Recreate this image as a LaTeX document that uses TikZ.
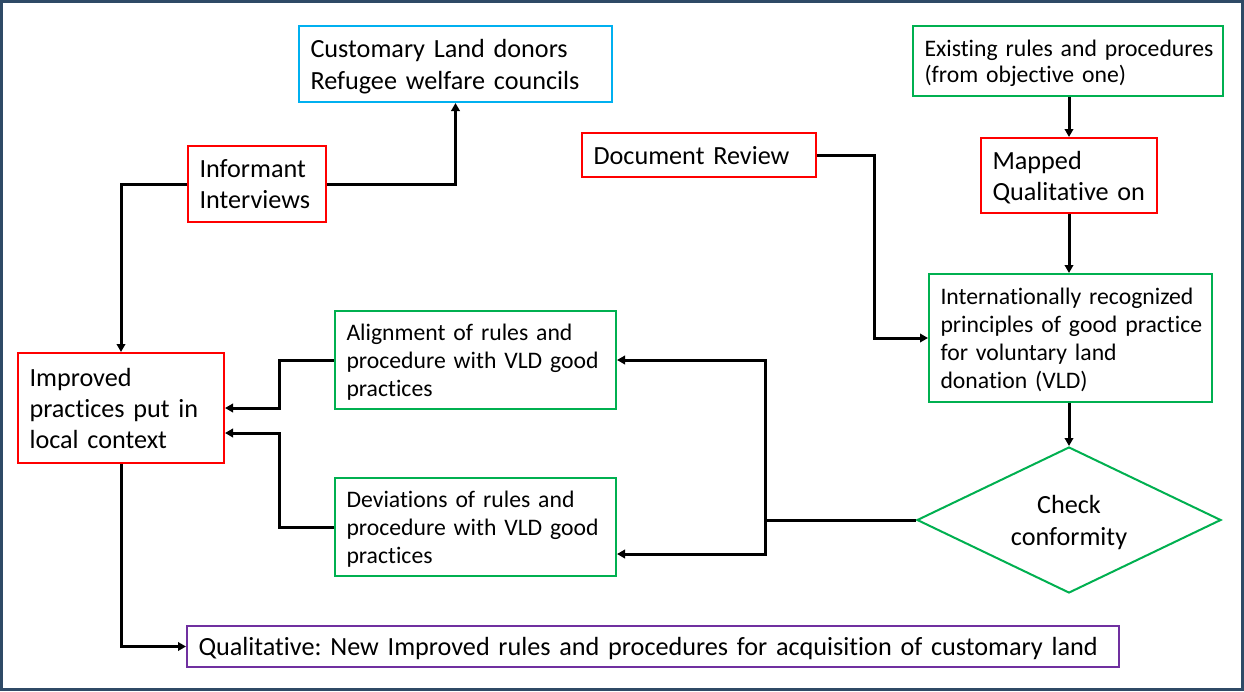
\documentclass[tikz,border=0pt]{standalone}
\usepackage{fontspec}
\setmainfont{Carlito}[Ligatures=NoCommon]
\usetikzlibrary{arrows.meta,shapes.geometric}
\definecolor{frame}{HTML}{2F4A66}
\definecolor{cred}{HTML}{FF0000}
\definecolor{cgreen}{HTML}{00B050}
\definecolor{cblue}{HTML}{00B0F0}
\definecolor{cpurple}{HTML}{7030A0}
% left-aligned lines that never wrap, set slightly low in their box
\newcommand{\leftstack}[1]{\raisebox{-3pt}[\height][\depth]{\begin{tabular}{@{}l@{}}#1\end{tabular}}}
\newcommand{\midstack}[1]{\raisebox{-3pt}[\height][\depth]{\begin{tabular}{@{}c@{}}#1\end{tabular}}}
\tikzset{
  box/.style={draw, line width=2pt, inner xsep=11.5pt, inner ysep=0pt,
    align=left, anchor=north west, fill=white,
    execute at begin node=\frenchspacing},
  bigtext/.style={font=\fontsize{26.2}{31}\selectfont},
  smalltext/.style={font=\fontsize{23.7}{28}\selectfont},
  redbox/.style={box, bigtext, draw=cred},
  bluebox/.style={box, bigtext, draw=cblue},
  greenbox/.style={box, smalltext, draw=cgreen},
  purplebox/.style={box, bigtext, draw=cpurple},
  link/.style={line width=3pt, -{Triangle[length=8pt,width=8.5pt]}},
  plainlink/.style={line width=3pt}
}
\begin{document}
\begin{tikzpicture}[x=1pt,y=-1pt]
  % page and outer frame
  \useasboundingbox (0,0) rectangle (1244,691);
  \fill[white] (0,0) rectangle (1244,691);
  \draw[frame, line width=3pt] (1.5,1.5) rectangle (1242.5,689.5);

  % boxes
  \node[bluebox, font=\fontsize{26.2}{32}\selectfont, text width=290pt, minimum height=76pt] (cust) at (298,25)
    {\leftstack{Customary Land donors\\Refugee welfare councils}};
  \node[redbox, text width=115pt, minimum height=76pt] (inf) at (187,145)
    {\leftstack{Informant\\Interviews}};
  \node[redbox, text width=211pt, minimum height=44pt] (doc) at (581,132)
    {\leftstack{Document Review}};
  \node[greenbox, font=\fontsize{23.7}{26}\selectfont, text width=287pt, minimum height=70pt] (ex) at (912,25)
    {\leftstack{Existing rules and procedures\\(from objective one)}};
  \node[redbox, text width=153pt, minimum height=75pt] (map) at (980,137)
    {\leftstack{Mapped\\Qualitative on}};
  \node[greenbox, text width=260pt, minimum height=128pt] (intl) at (928,273)
    {\leftstack{Internationally recognized\\principles of good practice\\for voluntary land\\donation (VLD)}};
  \node[greenbox, text width=258pt, minimum height=98pt] (aln) at (334,310)
    {\leftstack{Alignment of rules and\\procedure with VLD good\\practices}};
  \node[greenbox, text width=258pt, minimum height=98pt] (dev) at (334,477)
    {\leftstack{Deviations of rules and\\procedure with VLD good\\practices}};
  \node[redbox, text width=183pt, minimum height=110pt] (imp) at (17,352)
    {\leftstack{Improved\\practices put in\\local context}};
  \node[diamond, draw=cgreen, line width=2pt, inner sep=0pt, aspect=2.08,
    minimum width=304pt, minimum height=146pt, font=\fontsize{26.2}{32}\selectfont] (chk) at (1069,520)
    {\midstack{Check\\conformity}};
  \node[purplebox, text width=909pt, minimum height=41pt] (qual) at (186,625)
    {\leftstack{Qualitative: New Improved rules and procedures for acquisition of customary land}};

  % connectors
  \draw[link] (inf.west) -| (imp.north);
  \draw[link] (inf.east) -| (cust.south);
  \draw[link] (doc.east) -- ++(57,0) |- (intl.west);
  \draw[link] (ex.south -| map.north) -- (map.north);
  \draw[link] (map.south) -- (map.south |- intl.north);
  \draw[link] (intl.south -| chk.north) -- (chk.north);
  \coordinate (split) at (765,520);
  \draw[plainlink] (chk.west) -- (split);
  \draw[link] (split) |- (aln.east);
  \draw[link] (split) |- ([yshift=-27pt]dev.east);
  \draw[link] (aln.west) -- ++(-55,0) |- (imp.east);
  \draw[link] (dev.west) -- ++(-55,0) |- ([yshift=-25pt]imp.east);
  \draw[link] (imp.south) |- (qual.west);
\end{tikzpicture}
\end{document}
